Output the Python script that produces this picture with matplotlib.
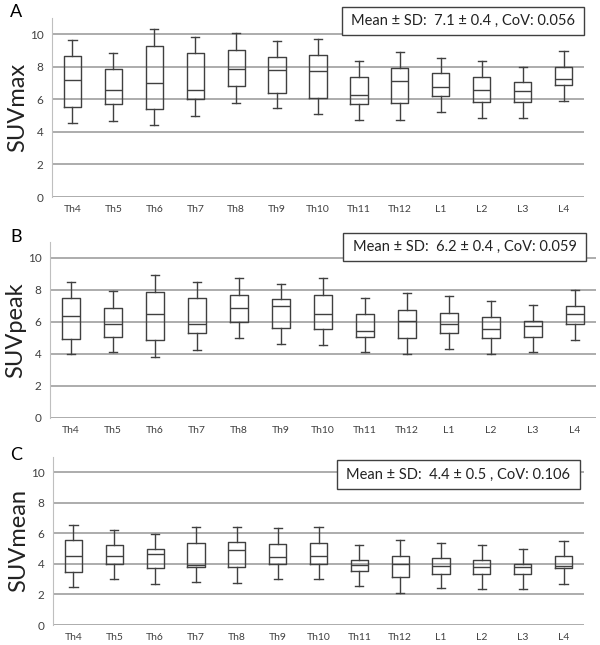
import matplotlib
matplotlib.use("Agg")
import matplotlib.pyplot as plt

levels = ["Th4", "Th5", "Th6", "Th7", "Th8", "Th9", "Th10", "Th11", "Th12", "L1", "L2", "L3", "L4"]

# SUVmax (whisker low, Q1, median, Q3, whisker high)
max_lo = [4.55, 4.7, 4.4, 5.0, 5.8, 5.45, 5.1, 4.72, 4.75, 5.2, 4.86, 4.86, 5.92]
max_q1 = [5.55, 5.7, 5.4, 6.0, 6.8, 6.4, 6.1, 5.72, 5.75, 6.2, 5.86, 5.86, 6.86]
max_med = [7.2, 6.6, 7.0, 6.6, 7.85, 7.8, 7.75, 6.25, 7.15, 6.78, 6.6, 6.53, 7.27]
max_q3 = [8.65, 7.85, 9.3, 8.85, 9.05, 8.6, 8.7, 7.35, 7.9, 7.6, 7.35, 7.04, 8.0]
max_hi = [9.65, 8.85, 10.3, 9.85, 10.05, 9.6, 9.7, 8.33, 8.9, 8.57, 8.33, 8.0, 9.0]

# SUVpeak
peak_lo = [4.0, 4.1, 3.83, 4.26, 4.98, 4.64, 4.54, 4.1, 4.0, 4.32, 4.0, 4.1, 4.86]
peak_q1 = [4.96, 5.07, 4.85, 5.3, 5.98, 5.6, 5.56, 5.06, 5.0, 5.33, 5.0, 5.06, 5.87]
peak_med = [6.38, 5.9, 6.47, 5.85, 6.85, 6.97, 6.47, 5.45, 6.04, 5.85, 5.56, 5.73, 6.47]
peak_q3 = [7.48, 6.9, 7.9, 7.48, 7.7, 7.43, 7.7, 6.47, 6.78, 6.57, 6.3, 6.04, 6.98]
peak_hi = [8.5, 7.92, 8.92, 8.5, 8.73, 8.4, 8.73, 7.48, 7.8, 7.6, 7.33, 7.06, 8.0]

# SUVmean
mean_lo = [2.48, 3.02, 2.7, 2.83, 2.74, 2.98, 2.98, 2.54, 2.1, 2.41, 2.37, 2.35, 2.7]
mean_q1 = [3.48, 4.02, 3.72, 3.83, 3.78, 3.98, 4.0, 3.54, 3.15, 3.37, 3.37, 3.37, 3.72]
mean_med = [4.54, 4.54, 4.67, 3.93, 4.91, 4.43, 4.5, 3.91, 4.0, 3.89, 3.83, 3.83, 3.89]
mean_q3 = [5.59, 5.22, 4.96, 5.4, 5.43, 5.33, 5.4, 4.26, 4.54, 4.39, 4.26, 3.98, 4.5]
mean_hi = [6.57, 6.2, 5.96, 6.4, 6.4, 6.35, 6.4, 5.26, 5.57, 5.4, 5.22, 5.0, 5.52]

panels = [
    ("A", "SUVmax", "Mean \u00b1 SD:  7.1 \u00b1 0.4 , CoV: 0.056",
     (max_lo, max_q1, max_med, max_q3, max_hi)),
    ("B", "SUVpeak", "Mean \u00b1 SD:  6.2 \u00b1 0.4 , CoV: 0.059",
     (peak_lo, peak_q1, peak_med, peak_q3, peak_hi)),
    ("C", "SUVmean", "Mean \u00b1 SD:  4.4 \u00b1 0.5 , CoV: 0.106",
     (mean_lo, mean_q1, mean_med, mean_q3, mean_hi)),
]

plt.rcParams["font.family"] = ["Lato", "DejaVu Sans"]

W, H = 600, 645
fig = plt.figure(figsize=(6, 6.45), dpi=100)

# axes boxes in pixels: left, top, right, bottom(0 line)
boxes = [(52, 18, 584, 197), (50, 242, 596, 418), (53, 457, 584, 625)]
# annotation boxes in pixels: left, top, right, bottom
notes = [(342, 7, 584, 35), (343, 233, 586, 261), (337, 460, 580, 489)]
letter_pos = [(10, 12), (10, 237), (10, 455)]

grid_col = "#a6a6a6"
box_col = "#404040"

for (letter, ylab, note, data), (l, t, r, b), (nl, nt, nr, nb), (lx, ly) in zip(
        panels, boxes, notes, letter_pos):
    ax = fig.add_axes([l / W, 1 - b / H, (r - l) / W, (b - t) / H])
    lo, q1, med, q3, hi = data
    stats = [dict(label=n, whislo=a, q1=c, med=d, q3=e, whishi=f)
             for n, a, c, d, e, f in zip(levels, lo, q1, med, q3, hi)]
    ax.bxp(stats, positions=range(len(levels)), widths=0.42, showfliers=False,
           boxprops=dict(color=box_col, linewidth=1.0),
           medianprops=dict(color=box_col, linewidth=1.0),
           whiskerprops=dict(color=box_col, linewidth=1.0),
           capprops=dict(color=box_col, linewidth=1.0), capwidths=0.2)
    ax.set_xlim(-0.5, len(levels) - 0.5)
    ax.set_ylim(0, 11)
    ax.set_yticks([0, 2, 4, 6, 8, 10])
    ax.yaxis.grid(True, color=grid_col, linewidth=1.3)
    ax.set_axisbelow(True)
    for s in ["top", "right", "bottom"]:
        ax.spines[s].set_visible(False)
    ax.spines["left"].set_color("#bfbfbf")
    ax.tick_params(axis="y", length=0, labelsize=8.5, labelcolor="#404040", pad=6)
    ax.tick_params(axis="x", length=0, labelsize=7.5, labelcolor="#404040", pad=6)
    ax.set_ylabel(ylab, fontsize=17, color="#222222", labelpad=1)

    fig.text(lx / W, 1 - ly / H, letter, fontsize=13, va="center", ha="left")
    rect = plt.Rectangle((nl / W, 1 - nb / H), (nr - nl) / W, (nb - nt) / H,
                         transform=fig.transFigure, facecolor="white",
                         edgecolor="#404040", linewidth=1.0, zorder=5)
    fig.add_artist(rect)
    fig.text((nl + nr) / 2 / W, 1 - (nt + nb) / 2 / H, note, fontsize=10.5,
             ha="center", va="center", color="#222222", zorder=6)

fig.savefig("out.png", dpi=100)
